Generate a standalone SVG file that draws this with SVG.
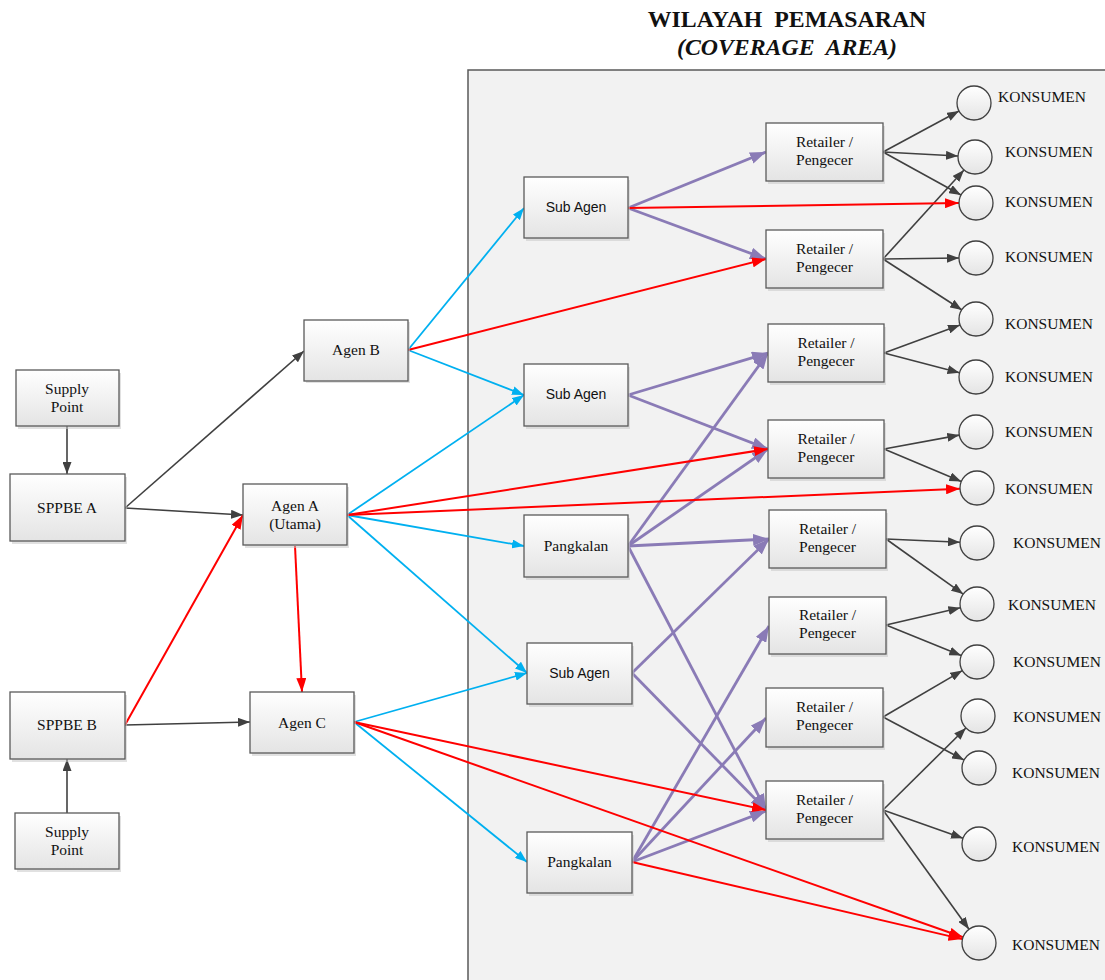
<svg xmlns="http://www.w3.org/2000/svg" width="1105" height="980" viewBox="0 0 1105 980">
<style>
.box{fill:url(#g);stroke:#5a5a5a;stroke-width:1.3}
.sh{fill:#c8c8c8;opacity:.55}
.cir{fill:url(#g);stroke:#404040;stroke-width:1.3}
.t{font-family:"Liberation Serif","Times New Roman",serif;font-size:15.5px;fill:#111;text-anchor:middle}
.ts{font-family:"Liberation Sans",Arial,sans-serif;font-size:14px;fill:#111;text-anchor:middle}
.k{font-family:"Liberation Serif","Times New Roman",serif;font-size:15.5px;fill:#111}
.title{font-family:"Liberation Serif","Times New Roman",serif;font-size:23.8px;font-weight:bold;fill:#111;text-anchor:middle}
.dk{stroke:#404040;stroke-width:1.6;fill:none;marker-end:url(#aD)}
.rd{stroke:#ff0000;stroke-width:2;fill:none;marker-end:url(#aR)}
.bl{stroke:#00b0f0;stroke-width:1.8;fill:none;marker-end:url(#aB)}
.pu{stroke:#8a7bb6;stroke-width:2.8;fill:none;marker-end:url(#aP)}
</style>
<defs>
<linearGradient id="g" x1="0" y1="0" x2="0" y2="1">
<stop offset="0" stop-color="#ffffff"/>
<stop offset="1" stop-color="#e4e4e4"/>
</linearGradient>
<marker id="aD" markerUnits="userSpaceOnUse" markerWidth="12" markerHeight="9" refX="12" refY="4.5" orient="auto"><path d="M0,0 L12,4.5 L0,9 z" fill="#404040"/></marker>
<marker id="aR" markerUnits="userSpaceOnUse" markerWidth="14" markerHeight="10" refX="14" refY="5" orient="auto"><path d="M0,0 L14,5 L0,10 z" fill="#ff0000"/></marker>
<marker id="aB" markerUnits="userSpaceOnUse" markerWidth="12" markerHeight="9" refX="12" refY="4.5" orient="auto"><path d="M0,0 L12,4.5 L0,9 z" fill="#00b0f0"/></marker>
<marker id="aP" markerUnits="userSpaceOnUse" markerWidth="16" markerHeight="12" refX="16" refY="6" orient="auto"><path d="M0,0 L16,6 L0,12 z" fill="#8a7bb6"/></marker>
</defs>
<rect width="1105" height="980" fill="#ffffff"/>
<g id="title">
<text class="title" x="787" y="27" xml:space="preserve">WILAYAH  PEMASARAN</text>
<text class="title" x="787" y="55" font-style="italic" xml:space="preserve">(COVERAGE  AREA)</text>
</g>
<rect id="coverage-area" x="468" y="70" width="645" height="920" fill="#f2f2f2" stroke="#595959" stroke-width="1.5"/>
<g id="connectors">
<line class="dk" x1="67" y1="426" x2="67" y2="474"/>
<line class="dk" x1="67" y1="813" x2="67" y2="759"/>
<line class="dk" x1="125" y1="508" x2="304" y2="351"/>
<line class="dk" x1="125" y1="508" x2="243" y2="515"/>
<line class="dk" x1="125" y1="725" x2="250" y2="722"/>
<line class="dk" x1="883" y1="152" x2="959" y2="111"/>
<line class="dk" x1="883" y1="152" x2="958" y2="156"/>
<line class="dk" x1="883" y1="152" x2="961" y2="195"/>
<line class="dk" x1="883" y1="259" x2="964" y2="170"/>
<line class="dk" x1="883" y1="259" x2="959" y2="258"/>
<line class="dk" x1="883" y1="259" x2="962" y2="310"/>
<line class="dk" x1="884" y1="353" x2="960" y2="325"/>
<line class="dk" x1="884" y1="353" x2="959.5" y2="372.7"/>
<line class="dk" x1="884" y1="449" x2="959.3" y2="435.1"/>
<line class="dk" x1="884" y1="449" x2="961.3" y2="481.4"/>
<line class="dk" x1="886" y1="539" x2="960" y2="542.3"/>
<line class="dk" x1="886" y1="539" x2="963.2" y2="594.1"/>
<line class="dk" x1="886" y1="625" x2="960.4" y2="607.8"/>
<line class="dk" x1="886" y1="625" x2="961.2" y2="655.6"/>
<line class="dk" x1="883" y1="717" x2="962.3" y2="670.6"/>
<line class="dk" x1="883" y1="717" x2="964" y2="760"/>
<line class="dk" x1="883" y1="810" x2="965.9" y2="728"/>
<line class="dk" x1="883" y1="810" x2="963" y2="838.3"/>
<line class="dk" x1="883" y1="810" x2="969" y2="929.2"/>
<line class="bl" x1="408" y1="350" x2="524" y2="208"/>
<line class="bl" x1="408" y1="350" x2="524" y2="395"/>
<line class="bl" x1="347" y1="515" x2="524" y2="395"/>
<line class="bl" x1="347" y1="515" x2="524" y2="546"/>
<line class="bl" x1="347" y1="515" x2="527" y2="673"/>
<line class="bl" x1="354" y1="722" x2="527" y2="673"/>
<line class="bl" x1="354" y1="722" x2="527" y2="862"/>
<line class="pu" x1="628" y1="208" x2="766" y2="152"/>
<line class="pu" x1="628" y1="208" x2="766" y2="259"/>
<line class="pu" x1="628" y1="395" x2="768" y2="353"/>
<line class="pu" x1="628" y1="395" x2="768" y2="449"/>
<line class="pu" x1="628" y1="546" x2="768" y2="353"/>
<line class="pu" x1="628" y1="546" x2="768" y2="449"/>
<line class="pu" x1="628" y1="546" x2="769" y2="539"/>
<line class="pu" x1="628" y1="546" x2="766" y2="810"/>
<line class="pu" x1="632" y1="673" x2="769" y2="539"/>
<line class="pu" x1="632" y1="673" x2="766" y2="810"/>
<line class="pu" x1="632" y1="862" x2="769" y2="626"/>
<line class="pu" x1="632" y1="862" x2="766" y2="718"/>
<line class="pu" x1="632" y1="862" x2="766" y2="811"/>
<line class="rd" x1="125" y1="725" x2="243" y2="515"/>
<line class="rd" x1="295" y1="546" x2="302" y2="692"/>
<line class="rd" x1="408" y1="350" x2="766" y2="259"/>
<line class="rd" x1="347" y1="515" x2="768" y2="449"/>
<line class="rd" x1="347" y1="515" x2="960" y2="488.7"/>
<line class="rd" x1="628" y1="208" x2="959" y2="203"/>
<line class="rd" x1="354" y1="722" x2="766" y2="810"/>
<line class="rd" x1="354" y1="722" x2="963" y2="937.3"/>
<line class="rd" x1="632" y1="862" x2="962.4" y2="939.1"/>
</g>
<g id="supply-point-a"><rect class="sh" x="18" y="373" width="103" height="56"/><rect class="box" x="16" y="370" width="103" height="56"/><text class="t" x="67" y="394">Supply</text><text class="t" x="67" y="412">Point</text></g>
<g id="sppbe-a"><rect class="sh" x="12" y="477" width="115" height="67"/><rect class="box" x="10" y="474" width="115" height="67"/><text class="t" x="67" y="513">SPPBE A</text></g>
<g id="agen-b"><rect class="sh" x="306" y="322" width="104" height="61"/><rect class="box" x="304" y="320" width="104" height="61"/><text class="t" x="356" y="355">Agen B</text></g>
<g id="agen-a"><rect class="sh" x="245" y="487" width="104" height="61"/><rect class="box" x="243" y="484" width="104" height="61"/><text class="t" x="295" y="511">Agen A</text><text class="t" x="295" y="529">(Utama)</text></g>
<g id="sppbe-b"><rect class="sh" x="12" y="695" width="115" height="67"/><rect class="box" x="10" y="692" width="115" height="67"/><text class="t" x="67" y="730">SPPBE B</text></g>
<g id="agen-c"><rect class="sh" x="252" y="695" width="104" height="61"/><rect class="box" x="250" y="692" width="104" height="61"/><text class="t" x="302" y="728">Agen C</text></g>
<g id="supply-point-b"><rect class="sh" x="17" y="816" width="104" height="56"/><rect class="box" x="15" y="813" width="104" height="56"/><text class="t" x="67" y="837">Supply</text><text class="t" x="67" y="855">Point</text></g>
<g id="sub-agen-1"><rect class="sh" x="526" y="180" width="104" height="61"/><rect class="box" x="524" y="177" width="104" height="61"/><text class="ts" x="576" y="212">Sub Agen</text></g>
<g id="sub-agen-2"><rect class="sh" x="526" y="367" width="104" height="62"/><rect class="box" x="524" y="364" width="104" height="62"/><text class="ts" x="576" y="399">Sub Agen</text></g>
<g id="pangkalan-1"><rect class="sh" x="526" y="518" width="104" height="62"/><rect class="box" x="524" y="515" width="104" height="62"/><text class="t" x="576" y="551">Pangkalan</text></g>
<g id="sub-agen-3"><rect class="sh" x="529" y="646" width="105" height="61"/><rect class="box" x="527" y="643" width="105" height="61"/><text class="ts" x="579.5" y="678">Sub Agen</text></g>
<g id="pangkalan-2"><rect class="sh" x="529" y="835" width="105" height="61"/><rect class="box" x="527" y="832" width="105" height="61"/><text class="t" x="579.5" y="867">Pangkalan</text></g>
<g id="retailer-1"><rect class="sh" x="768" y="126" width="117" height="58"/><rect class="box" x="766" y="123" width="117" height="58"/><text class="t" x="824.5" y="147">Retailer /</text><text class="t" x="824.5" y="165">Pengecer</text></g>
<g id="retailer-2"><rect class="sh" x="768" y="233" width="117" height="58"/><rect class="box" x="766" y="230" width="117" height="58"/><text class="t" x="824.5" y="254">Retailer /</text><text class="t" x="824.5" y="272">Pengecer</text></g>
<g id="retailer-3"><rect class="sh" x="770" y="327" width="116" height="58"/><rect class="box" x="768" y="324" width="116" height="58"/><text class="t" x="826" y="348">Retailer /</text><text class="t" x="826" y="366">Pengecer</text></g>
<g id="retailer-4"><rect class="sh" x="770" y="423" width="116" height="58"/><rect class="box" x="768" y="420" width="116" height="58"/><text class="t" x="826" y="444">Retailer /</text><text class="t" x="826" y="462">Pengecer</text></g>
<g id="retailer-5"><rect class="sh" x="771" y="513" width="117" height="58"/><rect class="box" x="769" y="510" width="117" height="58"/><text class="t" x="827.5" y="534">Retailer /</text><text class="t" x="827.5" y="552">Pengecer</text></g>
<g id="retailer-6"><rect class="sh" x="771" y="600" width="117" height="57"/><rect class="box" x="769" y="597" width="117" height="57"/><text class="t" x="827.5" y="620">Retailer /</text><text class="t" x="827.5" y="638">Pengecer</text></g>
<g id="retailer-7"><rect class="sh" x="768" y="691" width="117" height="59"/><rect class="box" x="766" y="688" width="117" height="59"/><text class="t" x="824.5" y="712">Retailer /</text><text class="t" x="824.5" y="730">Pengecer</text></g>
<g id="retailer-8"><rect class="sh" x="768" y="784" width="117" height="58"/><rect class="box" x="766" y="781" width="117" height="58"/><text class="t" x="824.5" y="805">Retailer /</text><text class="t" x="824.5" y="823">Pengecer</text></g>
<g id="konsumen-1"><circle class="cir" cx="974" cy="103" r="17"/><text class="k" x="998" y="102">KONSUMEN</text></g>
<g id="konsumen-2"><circle class="cir" cx="975" cy="157" r="17"/><text class="k" x="1005" y="157">KONSUMEN</text></g>
<g id="konsumen-3"><circle class="cir" cx="976" cy="203" r="17"/><text class="k" x="1005" y="207">KONSUMEN</text></g>
<g id="konsumen-4"><circle class="cir" cx="976" cy="258" r="17"/><text class="k" x="1005" y="262">KONSUMEN</text></g>
<g id="konsumen-5"><circle class="cir" cx="976" cy="319" r="17"/><text class="k" x="1005" y="329">KONSUMEN</text></g>
<g id="konsumen-6"><circle class="cir" cx="976" cy="377" r="17"/><text class="k" x="1005" y="382">KONSUMEN</text></g>
<g id="konsumen-7"><circle class="cir" cx="976" cy="432" r="17"/><text class="k" x="1005" y="437">KONSUMEN</text></g>
<g id="konsumen-8"><circle class="cir" cx="977" cy="488" r="17"/><text class="k" x="1005" y="494">KONSUMEN</text></g>
<g id="konsumen-9"><circle class="cir" cx="977" cy="543" r="17"/><text class="k" x="1013" y="548">KONSUMEN</text></g>
<g id="konsumen-10"><circle class="cir" cx="977" cy="604" r="17"/><text class="k" x="1008" y="610">KONSUMEN</text></g>
<g id="konsumen-11"><circle class="cir" cx="977" cy="662" r="17"/><text class="k" x="1013" y="667">KONSUMEN</text></g>
<g id="konsumen-12"><circle class="cir" cx="978" cy="716" r="17"/><text class="k" x="1013" y="722">KONSUMEN</text></g>
<g id="konsumen-13"><circle class="cir" cx="979" cy="768" r="17"/><text class="k" x="1012" y="778">KONSUMEN</text></g>
<g id="konsumen-14"><circle class="cir" cx="979" cy="844" r="17"/><text class="k" x="1012" y="852">KONSUMEN</text></g>
<g id="konsumen-15"><circle class="cir" cx="979" cy="943" r="17"/><text class="k" x="1012" y="950">KONSUMEN</text></g>
</svg>
